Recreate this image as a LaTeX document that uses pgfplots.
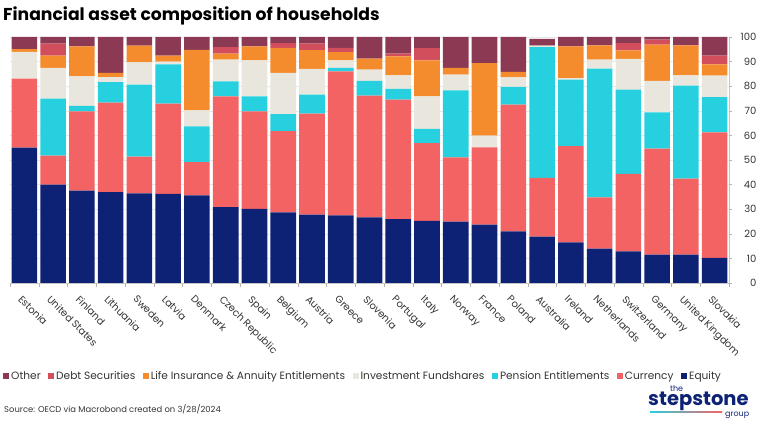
\documentclass[border=0pt]{standalone}
\usepackage{pgfplots}
\pgfplotsset{compat=1.18}
\usepackage{pgfplotstable}
\usepackage{fontspec}
\setmainfont{Poppins}
\definecolor{cEq}{HTML}{0D2275}
\definecolor{cCur}{HTML}{F46363}
\definecolor{cPen}{HTML}{27D0DE}
\definecolor{cInv}{HTML}{E9E7DD}
\definecolor{cLife}{HTML}{F48B2C}
\definecolor{cDebt}{HTML}{D24E5C}
\definecolor{cOth}{HTML}{8C3A53}
\definecolor{cTxt}{HTML}{333333}
\pgfplotstableread{
x eq cur pen inv life debt oth
0 55.0 28.1 0 10.9 1.1 0 4.9
1 40.0 11.8 23.1 12.5 5.0 4.9 2.7
2 37.5 32.3 2.2 12.0 12.2 0 3.8
3 36.9 36.4 8.4 2.0 1.7 0 14.6
4 36.4 15.0 29.2 9.1 6.8 0 3.5
5 36.2 36.7 16.0 1.1 2.4 0 7.6
6 35.6 13.5 14.6 6.5 24.6 0 5.2
7 30.8 45.1 6.1 8.8 2.4 2.7 4.1
8 30.1 39.7 6.1 14.6 5.7 0 3.8
9 28.7 33.0 6.9 16.8 10.2 1.9 2.5
10 27.8 41.0 7.8 10.4 7.7 2.6 2.7
11 27.5 58.5 1.4 3.1 3.4 1.7 4.4
12 26.7 49.5 6.0 4.5 4.5 0 8.8
13 26.0 48.5 4.4 5.5 7.7 1.1 6.8
14 25.3 31.6 5.8 13.2 14.6 5.0 4.5
15 24.9 26.2 27.2 6.4 2.7 0 12.6
16 23.7 31.4 0 4.8 29.5 0 10.6
17 21.0 51.5 7.2 3.9 2.2 0 14.2
18 18.8 23.9 53.2 0.6 0 0 2.7
19 16.5 39.1 27.1 0.6 12.9 0 3.8
20 14.0 20.8 52.3 3.7 5.8 0 3.4
21 12.9 31.5 34.2 12.5 3.5 2.9 2.5
22 11.5 43.1 14.8 12.8 14.7 2.0 1.1
23 11.5 30.9 37.8 4.2 12.2 0 3.4
24 10.2 51.0 14.4 8.7 4.6 3.5 7.6
}\data
\begin{document}
\begin{tikzpicture}[x=1pt,y=1pt]
\path[use as bounding box] (0,0) rectangle (758,422);
\node[anchor=base west, inner sep=0pt, font=\fontsize{17.2}{19}\selectfont\bfseries, text=black] at (3,401) {Financial asset composition of households};
\begin{axis}[at={(10pt,139pt)}, anchor=south west, scale only axis,
  width=719pt, height=246pt,
  ybar stacked, bar width=25.6pt,
  xmin=-0.5, xmax=24.5, ymin=0, ymax=100,
  axis y line*=right, axis x line*=bottom,
  axis line style={draw=gray!45},
  ytick={0,10,...,100},
  ymajorgrids, grid style={draw=gray!18},
  xtick={0,...,24},
  xticklabels={Estonia,United States,Finland,Lithuania,Sweden,Latvia,Denmark,Czech Republic,Spain,Belgium,Austria,Greece,Slovenia,Portugal,Italy,Norway,France,Poland,Australia,Ireland,Netherlands,Switzerland,Germany,United Kingdom,Slovakia},
  major x tick style={draw=none},
  minor xtick={-0.5,0.5,...,24.5},
  minor tick length=4pt, major tick length=3pt,
  tick align=outside,
  minor x tick style={draw=gray!60},
  major y tick style={draw=gray!60},
  xticklabel style={rotate=-45, anchor=north west, font=\fontsize{10}{12}\selectfont, text=cTxt, inner sep=1pt, xshift=4pt, yshift=-6pt},
  yticklabel style={anchor=east, xshift=28pt, font=\fontsize{10}{12}\selectfont, text=cTxt},
  /pgf/number format/assume math mode=true,
  legend style={at={(-0.0097,-0.378)}, anchor=west, draw=none, fill=none,
    font=\fontsize{10.6}{12}\selectfont, text=cTxt, inner sep=0pt,
    nodes={text height=1.6ex, text depth=0.5ex},
    /tikz/every even column/.append style={column sep=5.5pt}},
  legend columns=-1, reverse legend,
  legend image code/.code={\fill[#1] (0pt,-3pt) rectangle (6pt,3pt);},
]
\addplot[fill=cEq, draw=none] table[x=x,y=eq] {\data};
\addplot[fill=cCur, draw=none] table[x=x,y=cur] {\data};
\addplot[fill=cPen, draw=none] table[x=x,y=pen] {\data};
\addplot[fill=cInv, draw=none] table[x=x,y=inv] {\data};
\addplot[fill=cLife, draw=none] table[x=x,y=life] {\data};
\addplot[fill=cDebt, draw=none] table[x=x,y=debt] {\data};
\addplot[fill=cOth, draw=none] table[x=x,y=oth] {\data};
\legend{Equity,Currency,Pension Entitlements,Investment Fundshares,Life Insurance \& Annuity Entitlements,Debt Securities,Other}
\end{axis}
\node[anchor=base west, inner sep=0pt, font=\fontsize{8.4}{10}\selectfont, text=cTxt] at (4,9) {Source: OECD via Macrobond created on 3/28/2024};
\node[anchor=base west, inner sep=0pt, font=\fontsize{19.5}{20}\selectfont\bfseries, text=cEq] at (648,16) {stepstone};
\node[anchor=base west, inner sep=0pt, font=\fontsize{8}{9}\selectfont, text=cEq] at (670,30) {the};
\node[anchor=base west, inner sep=0pt, font=\fontsize{8}{9}\selectfont, text=cEq] at (725,5) {group};
\shade[left color=cPen, right color=cCur] (650,9.6) rectangle (722,10.6);
\end{tikzpicture}
\end{document}
